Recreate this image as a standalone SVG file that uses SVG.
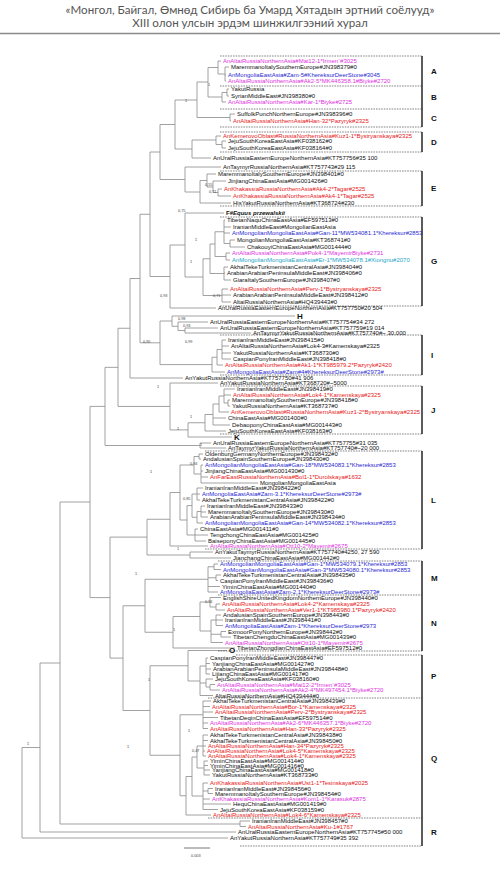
<svg xmlns="http://www.w3.org/2000/svg" width="500" height="882" viewBox="0 0 500 882">
<style>
.hd{font-family:Lato,"Open Sans",sans-serif;font-size:11.6px;fill:#555;text-anchor:middle}
.t{font-family:"Liberation Sans",Arial,sans-serif;font-size:6px;fill:#111;dominant-baseline:central}
.m{fill:#e032e0}.r{fill:#e82020}.b{fill:#2a2ad2}.c{fill:#1fa6c8}
.br{stroke:#8a8a8a;stroke-width:0.8;fill:none}
.dash{stroke:#333;stroke-width:0.6;stroke-dasharray:1.6 1;fill:none}
.bar{stroke:#333;stroke-width:1.6;fill:none}
.lab{font-family:"Liberation Sans",Arial,sans-serif;font-size:8px;font-weight:bold;fill:#111;dominant-baseline:central}
.s{font-family:"Liberation Sans",Arial,sans-serif;font-size:3.8px;fill:#444}
</style>
<rect width="500" height="882" fill="#fff"/>
<g id="header">
<text class="hd" x="250" y="14">«Монгол, Байгал, Өмнөд Сибирь ба Умард Хятадын эртний соёлууд»</text>
<text class="hd" x="250" y="27">XIII олон улсын эрдэм шинжилгээний хурал</text>
<path d="M0 33.5H500" stroke="#8a8a8a" stroke-width="1.6"/>
</g>
<g id="connectors" class="br">
<path d="M225 67V81M225 67H229M225 75H226M225 81H226"/>
<path d="M218 61V74M218 61H221M218 74H225"/>
<path d="M227 89V96M227 89H229M227 96H229"/>
<path d="M222 92.5V102M222 92.5H227M222 102H226"/>
<path d="M208 67.5V97M208 67.5H218M208 97H222"/>
<path d="M230 114V121M230 114H235M230 121H231"/>
<path d="M197 82V117.5M197 82H208M197 117.5H230"/>
<path d="M222 141V148M222 141H226M222 148H226"/>
<path d="M216 136V144.5M216 136H221M216 144.5H222"/>
<path d="M192 140V158M192 140H216M192 158H211"/>
<path d="M175 100V149M175 100H197M175 149H192"/>
<path d="M218 189V196M218 189H222M218 196H231"/>
<path d="M213 181V192.5M213 181H226M213 192.5H218"/>
<path d="M207 174V187M207 174H216M207 187H213"/>
<path d="M200 180.5V203M200 180.5H207M200 203H231"/>
<path d="M185 167V192M185 167H221M185 192H200"/>
<path d="M160 124.5V179.5M160 124.5H175M160 179.5H185"/>
<path d="M230 240V247M230 240H235M230 247H245"/>
<path d="M224 220V243.5M224 220H225M224 227H231M224 233H230M224 243.5H230"/>
<path d="M226 253V260M226 253H230M226 260H230"/>
<path d="M224 267V280M224 267H228M224 273H225M224 280H231"/>
<path d="M222 289V302M222 289H228M222 295H231M222 302H231"/>
<path d="M215 231.75V256.5M215 231.75H224M215 256.5H226"/>
<path d="M210 244V273.5M210 244H215M210 273.5H224"/>
<path d="M203 258.75V295.5M203 258.75H210M203 295.5H222"/>
<path d="M185 213V277M185 213H224M185 277H203"/>
<path d="M170 245V308M170 245H185M170 308H216"/>
<path d="M150 152V276.5M150 152H160M150 276.5H170"/>
<path d="M185 328V333M185 328H218M185 333H251"/>
<path d="M178 322V330.5M178 322H208M178 330.5H185"/>
<path d="M172 316V326.25M172 316H295M172 326.25H178"/>
<path d="M222 340V359M222 340H226M222 346H229M222 353H231M222 359H231"/>
<path d="M217 349.5V365M217 349.5H222M217 365H223"/>
<path d="M212 357.25V372M212 357.25H217M212 372H225"/>
<path d="M160 321V364.6M160 321H172M160 364.6H212"/>
<path d="M140 214.25V342.8M140 214.25H150M140 342.8H160"/>
<path d="M130 278.5V378M130 278.5H140M130 378H183"/>
<path d="M228 400V406M228 400H230M228 406H230"/>
<path d="M224 389V403M224 389H235M224 395H231M224 403H228"/>
<path d="M219 396V412M219 396H224M219 412H229"/>
<path d="M213 404V425M213 404H219M213 418H226M213 425H230"/>
<path d="M205 414.5V431M205 414.5H213M205 431H226"/>
<path d="M188 422.75V437M188 422.75H205M188 437H232"/>
<path d="M170 383V429.9M170 383H218M170 429.9H188"/>
<path d="M118 328.25V406.45M118 328.25H130M118 406.45H170"/>
<path d="M200 443V448M200 443H211M200 448H226"/>
<path d="M105 367.35V445.5M105 367.35H118M105 445.5H200"/>
<path d="M199 454V459M199 454H203M199 459H201"/>
<path d="M201 465V483M201 465H203M201 471H203M201 477H208M201 483H258"/>
<path d="M194 456.5V474M194 456.5H199M194 474H201"/>
<path d="M197 488V500M197 488H203M197 494H200M197 500H200"/>
<path d="M201 506V517M201 506H205M201 512H206M201 517H208"/>
<path d="M197 511.5V523M197 511.5H201M197 523H203"/>
<path d="M192 494V517.25M192 494H197M192 517.25H197"/>
<path d="M195 529V541M195 529H198M195 535H208M195 541H206"/>
<path d="M187 505.6V535M187 505.6H192M187 535H195"/>
<path d="M180 465V520M180 465H194M180 520H187"/>
<path d="M170 492.5V546M170 492.5H180M170 546H208"/>
<path d="M190 552V558M190 552H213M190 558H231"/>
<path d="M147 519.25V555M147 519.25H170M147 555H190"/>
<path d="M214 564V569.5M214 564H218M214 569.5H221"/>
<path d="M216 575V580.5M216 575H221M216 580.5H218"/>
<path d="M208 566.75V592M208 566.75H214M208 577.75H216M208 586.5H220M208 592H218"/>
<path d="M216 604V610M216 604H220M216 610H225"/>
<path d="M210 597.5V607M210 597.5H221M210 607H216"/>
<path d="M216 615V625.5M216 615H221M216 620H223M216 625.5H223"/>
<path d="M221 631.5V637M221 631.5H226M221 637H231"/>
<path d="M211 620V642.5M211 620H216M211 634.25H221M211 642.5H223"/>
<path d="M200 602V631M200 602H210M200 631H211"/>
<path d="M173 616.5V648M173 616.5H200M173 648H235"/>
<path d="M145 579.25V632.25M145 579.25H208M145 632.25H173"/>
<path d="M206 658V674M206 658H208M206 663.5H210M206 669H211M206 674H210"/>
<path d="M210 684.5V690M210 684.5H215M210 690H220"/>
<path d="M206 679V687M206 679H213M206 687H210"/>
<path d="M200 666V695.5M200 666H206M200 683H206M200 695.5H213"/>
<path d="M188 650.5V681M188 650.5H227M188 681H200"/>
<path d="M203 701V728.5M203 701H211M203 706.5H210M203 712H213M203 717.5H218M203 723H208M203 728.5H208"/>
<path d="M203 735V756M203 735H208M203 740.5H208M203 746H206M203 751H205M203 756H206"/>
<path d="M204 761V775M204 761H208M204 765.5H208M204 770H210M204 775H210"/>
<path d="M197 746V768M197 746H203M197 768H204"/>
<path d="M208 788.5V793.5M208 788.5H213M208 793.5H213"/>
<path d="M203 783V809.5M203 783H208M203 791H208M203 799H210M203 804H231M203 809.5H218"/>
<path d="M192 757V796M192 757H197M192 796H203"/>
<path d="M186 776.5V815M186 776.5H192M186 815H211"/>
<path d="M180 714.75V795.75M180 714.75H203M180 795.75H186"/>
<path d="M150 665.75V755.25M150 665.75H188M150 755.25H180"/>
<path d="M123 605.75V710.5M123 605.75H145M123 710.5H150"/>
<path d="M110 537.1V658.1M110 537.1H147M110 658.1H123"/>
<path d="M90 406.4V597.6M90 406.4H105M90 597.6H110"/>
<path d="M240 821V826.5M240 821H250M240 826.5H246"/>
<path d="M60 502V824M60 502H90M60 824H240"/>
<path d="M40 663V832M40 663H60M40 832H236"/>
<path d="M22 747.5V838M22 747.5H40M22 838H228"/>
</g>
<g id="boxes">
<path class="dash" d="M220 56H422M220 86H422M220 109H422M220 127H422M220 132H422M220 152H422M220 171H422M220 206H422M220 217H422M220 306H422M220 335H422M220 375H422M220 386H422M220 434H422M205 451H422M205 549H422M218 561H422M218 595H422M218 651H422M236 655H422M208 698H422M208 818H422M240 846H422"/>
<path class="bar" d="M422 56V86M422 86V109M422 109V127M422 132V152M422 171V206M422 217V306M422 335V375M422 386V434M422 451V549M422 561V595M422 595V651M422 655V698M422 698V818M422 818V846"/>
<text class="lab" x="431" y="71">A</text><text class="lab" x="431" y="97.5">B</text><text class="lab" x="431" y="118">C</text><text class="lab" x="431" y="142">D</text><text class="lab" x="431" y="188.5">E</text><text class="lab" x="431" y="261.5">G</text><text class="lab" x="431" y="355">I</text><text class="lab" x="431" y="410">J</text><text class="lab" x="431" y="500">L</text><text class="lab" x="431" y="578">M</text><text class="lab" x="431" y="623">N</text><text class="lab" x="431" y="676.5">P</text><text class="lab" x="431" y="758">Q</text><text class="lab" x="431" y="832">R</text>
</g>
<g id="cladeA">
<text class="t m" x="223" y="61">AnAltaiRussiaNorthernAsia#Mai12-1*Irmen`#3025</text>
<text class="t" x="231" y="67">MaremmanoItalySouthernEurope#JN398379#0</text>
<text class="t b" x="228" y="75">AnMongoliaEastAsia#Zam-5#KhereksurDeerStone#3045</text>
<text class="t m" x="228" y="81">AnAltaiRussiaNorthernAsia#Ak2-5*MK446358.1#Biyke#2720</text>
</g>
<g id="cladeB">
<text class="t" x="231" y="89">YakutRussia</text>
<text class="t" x="231" y="96">SyrianMiddleEast#JN398380#0</text>
<text class="t m" x="228" y="102">AnAltaiRussiaNorthernAsia#Kar-1*Biyke#2725</text>
</g>
<g id="cladeC">
<text class="t" x="237" y="114">SuffolkPunchNorthernEurope#JN398396#0</text>
<text class="t r" x="233" y="121">AnAltaiRussiaNorthernAsia#Han-32*Pazyryk#2325</text>
</g>
<g id="cladeD">
<text class="t r" x="223" y="136">AnKemerovoOblast#RussiaNorthernAsia#Kuz1-1*Bystryanskaya#2325</text>
<text class="t" x="228" y="141">JejuSouthKoreaEastAsia#KF038162#0</text>
<text class="t" x="228" y="148">JejuSouthKoreaEastAsia#KF038164#0</text>
<text class="t" x="213" y="158">AnUralRussiaEasternEuropeNorthernAsia#KT757756#35 100</text>
<text class="t" x="223" y="167">AnTaymyrRussiaNorthernAsia#KT757743#29 115</text>
</g>
<g id="cladeE">
<text class="t" x="218" y="174">MaremmanoItalySouthernEurope#JN398401#0</text>
<text class="t" x="228" y="181">JinjiangChinaEastAsia#MG001426#0</text>
<text class="t r" x="224" y="189">AnKhakassiaRussiaNorthernAsia#Ak4-2*Tagar#2525</text>
<text class="t r" x="233" y="196">AnKhakassiaRussiaNorthernAsia#Ak4-1*Tagar#2525</text>
<text class="t" x="233" y="203">HisYakutRussiaNorthernAsia#KT368724#230</text>
</g>
<g id="cladeF">
<text class="t" x="226" y="213" font-weight="bold" font-size="7.5">F#<tspan font-style="italic">Equus przewalskii</tspan></text>
</g>
<g id="cladeG">
<text class="t" x="227" y="220">TibetanNaquChinaEastAsia#EF597513#0</text>
<text class="t" x="233" y="227">IranianMiddleEast#MongolianEastAsia</text>
<text class="t b" x="232" y="233">AnMongolianMongoliaEastAsia#Gan-11*MW534081.1*Khereksur#2853</text>
<text class="t" x="237" y="240">MongolianMongoliaEastAsia#KT368741#0</text>
<text class="t" x="247" y="247">ChakouyiChinaEastAsia#MG001444#0</text>
<text class="t m" x="232" y="253">AnAltaiRussiaNorthernAsia#Pok4-1*MayemirBiyke#2731</text>
<text class="t c" x="232" y="260">AnMongolianMongoliaEastAsia#Er-1*MW534078.1#Xiongnu#2070</text>
<text class="t" x="230" y="267">AkhalTekeTurkmenistanCentralAsia#JN398404#0</text>
<text class="t" x="227" y="273">ArabianArabianPeninsulaMiddleEast#JN398406#0</text>
<text class="t" x="233" y="280">GiaraItalySouthernEurope#JN398407#0</text>
<text class="t r" x="230" y="289">AnAltaiRussiaNorthernAsia#Perv-1*Bystryanskaya#2325</text>
<text class="t" x="233" y="295">ArabianArabianPeninsulaMiddleEast#JN398412#0</text>
<text class="t" x="233" y="302">AltaiRussiaNorthernAsia#HQ439443#0</text>
<text class="t" x="218" y="308">AnUralRussiaEasternEuropeNorthernAsia#KT757750#20 504</text>
</g>
<g id="cladeH">
<text class="lab" x="297" y="316">H</text>
<text class="t" x="210" y="322">AnUralRussiaEasternEuropeNorthernAsia#KT757754#34 272</text>
<text class="t" x="220" y="328">AnUralRussiaEasternEuropeNorthernAsia#KT757759#19 014</text>
<text class="t" x="253" y="333">AnTaymyrYakutRussiaNorthernAsia#KT757740#~ 30.000</text>
</g>
<g id="cladeI">
<text class="t" x="228" y="340">IranianIranMiddleEast#JN398415#0</text>
<text class="t" x="231" y="346">AnAltaiRussiaNorthernAsia#Lok4-3#Kamenskaya#2325</text>
<text class="t" x="233" y="353">YakutRussiaNorthernAsia#KT368730#0</text>
<text class="t" x="233" y="359">CaspianPonyIranMiddleEast#JN398418#0</text>
<text class="t r" x="225" y="365">AnAltaiRussiaNorthernAsia#Ak1-1*KT985979.2*Pazyryk#2420</text>
<text class="t b" x="227" y="372">AnMongoliaEastAsia#Zam#4#KhereksurDeerStone#2973#</text>
<text class="t" x="185" y="378">AnYakutRussiaNorthernAsia#KT757750#41 906</text>
<text class="t" x="220" y="383">AnYakutRussiaNorthernAsia#KT368720#~5000</text>
</g>
<g id="cladeJ">
<text class="t" x="237" y="389">IranianIranMiddleEast#JN398419#0</text>
<text class="t r" x="233" y="395">AnAltaiRussiaNorthernAsia#Lok4-1*Kamenskaya#2325</text>
<text class="t" x="232" y="400">MaremmanoItalySouthernEurope#JN398418#0</text>
<text class="t" x="232" y="406">YakutRussiaNorthernAsia#KT368737#0</text>
<text class="t r" x="231" y="412">AnKemerovoOblast#RussiaNorthernAsia#Kuz1-2*Bystryanskaya#2325</text>
<text class="t" x="228" y="418">ChinaEastAsia#MG001400#0</text>
<text class="t" x="232" y="425">DebaoponyChinaEastAsia#MG001443#0</text>
<text class="t" x="228" y="431">JejuSouthKoreaEastAsia#KF038163#0</text>
</g>
<g id="cladeK">
<text class="lab" x="234" y="437">K</text>
<text class="t" x="213" y="443">AnUralRussiaEasternEuropeNorthernAsia#KT757755#31 035</text>
<text class="t" x="228" y="448">AnTaymyrYakutRussiaNorthernAsia#KT757740#~20 000</text>
</g>
<g id="cladeL">
<text class="t" x="205" y="454">OldenburgGermanyNorthernEurope#JN398432#0</text>
<text class="t" x="203" y="459">AndalusianSpainSouthernEurope#JN398430#0</text>
<text class="t b" x="205" y="465">AnMongolianMongoliaEastAsia#Gan-18*MW534083.1*Khereksur#2853</text>
<text class="t" x="205" y="471">JinjiangChinaEastAsia#MG001430#0</text>
<text class="t r" x="210" y="477">AnFarEastRussiaNorthernAsia#Bol1-1*Durolskaya#1632</text>
<text class="t" x="260" y="483">MongolianMongoliaEastAsia</text>
<text class="t" x="205" y="488">IranianIranMiddleEast#JN398422#0</text>
<text class="t b" x="202" y="494">AnMongoliaEastAsia#Zam-3.1*KhereksurDeerStone#2973#</text>
<text class="t" x="202" y="500">AkhalTekeTurkmenistanCentralAsia#JN398422#0</text>
<text class="t" x="207" y="506">IranianIranMiddleEast#JN398433#0</text>
<text class="t" x="208" y="512">MaremmanoItalySouthernEurope#JN398430#0</text>
<text class="t" x="210" y="517">ArabianArabianPeninsulaMiddleEast#JN398434#0</text>
<text class="t b" x="205" y="523">AnMongolianMongoliaEastAsia#Gan-14*MW534082.1*Khereksur#2853</text>
<text class="t" x="200" y="529">ChinaEastAsia#MG001411#0</text>
<text class="t" x="210" y="535">TengchongChinaEastAsia#MG001425#0</text>
<text class="t" x="208" y="541">BaiseponyChinaEastAsia#MG001445#0</text>
<text class="t m" x="210" y="546">AnAltaiRussiaNorthernAsia#Ott10-2*Mayemir#2675</text>
<text class="t" x="215" y="552">AnYakutTaymyrRussiaNorthernAsia#KT757740#4250, 27 590</text>
<text class="t" x="233" y="558">JianchangChinaEastAsia#MG001442#0</text>
</g>
<g id="cladeM">
<text class="t b" x="220" y="564">AnMongolianMongoliaEastAsia#Gan-1*MW534079.1*Khereksur#2853</text>
<text class="t b" x="223" y="569.5">AnMongolianMongoliaEastAsia#Gan-3*MW534080.1*Khereksur#2853</text>
<text class="t" x="223" y="575">AkhalTekeTurkmenistanCentralAsia#JN398435#0</text>
<text class="t" x="220" y="580.5">CaspianPonyIranMiddleEast#JN398436#0</text>
<text class="t" x="222" y="586.5">YiminChinaEastAsia#MG001440#0</text>
<text class="t b" x="220" y="592">AnMongoliaEastAsia#Zam-2.1*KhereksurDeerStone#2973#</text>
</g>
<g id="cladeN">
<text class="t" x="223" y="597.5">EnglishShireUnitedKingdomNorthernEurope#JN398440#0</text>
<text class="t r" x="222" y="604">AnAltaiRussiaNorthernAsia#Lok4-2*Kamenskaya#2325</text>
<text class="t r" x="227" y="610">AnAltaiRussiaNorthernAsia#Ver1-1*KT985980.1*Pazyryk#2420</text>
<text class="t" x="223" y="615">AndalusianSpainSouthernEurope#JN398443#0</text>
<text class="t" x="225" y="620">IranianIranMiddleEast#JN398441#0</text>
<text class="t b" x="225" y="625.5">AnMongoliaEastAsia#Zam-1*KhereksurDeerStone#2973</text>
<text class="t" x="228" y="631.5">ExmoorPonyNorthernEurope#JN398442#0</text>
<text class="t" x="233" y="637">TibetanChengduChinaEastAsia#MG001439#0</text>
<text class="t m" x="225" y="642.5">AnAltaiRussiaNorthernAsia#Ott10-1*Mayemir#2675</text>
<text class="t" x="237" y="648">TibetanZhongdianChinaEastAsia#EF597512#0</text>
</g>
<g id="cladeO"><text class="lab" x="229" y="650.5" font-size="6.5">O</text></g>
<g id="cladeP">
<text class="t" x="210" y="658">CaspianPonyIranMiddleEast#JN398447#0</text>
<text class="t" x="212" y="663.5">YanjiangChinaEastAsia#MG001427#0</text>
<text class="t" x="213" y="669">ArabianArabianPeninsulaMiddleEast#JN398448#0</text>
<text class="t" x="212" y="674">LijiangChinaEastAsia#MG001417#0</text>
<text class="t" x="215" y="679">JejuSouthKoreaEastAsia#KF038160#0</text>
<text class="t m" x="217" y="684.5">AnAltaiRussiaNorthernAsia#Mai12-2*Irmen`#3025</text>
<text class="t m" x="222" y="690">AnAltaiRussiaNorthernAsia#Ak2-4*MK497454.1*Biyke#2720</text>
<text class="t" x="215" y="695.5">AltaiRussiaNorthernAsia#HQ439444#0</text>
</g>
<g id="cladeQ">
<text class="t" x="213" y="701">AkhalTekeTurkmenistanCentralAsia#JN398439#0</text>
<text class="t r" x="212" y="706.5">AnAltaiRussiaNorthernAsia#Bor-1*Kamenskaya#2325</text>
<text class="t r" x="215" y="712">AnAltaiRussiaNorthernAsia#Perv-2*Bystryanskaya#2325</text>
<text class="t" x="220" y="717.5">TibetanDeqinChinaEastAsia#EF597514#0</text>
<text class="t m" x="210" y="723">AnAltaiRussiaNorthernAsia#Ak2-6*MK446357.1*Biyke#2720</text>
<text class="t r" x="210" y="728.5">AnAltaiRussiaNorthernAsia#Han-33*Pazyryk#2325</text>
<text class="t" x="210" y="735">AkhalTekeTurkmenistanCentralAsia#JN398438#0</text>
<text class="t" x="210" y="740.5">AkhalTekeTurkmenistanCentralAsia#JN398450#0</text>
<text class="t r" x="208" y="746">AnAltaiRussiaNorthernAsia#Han-34*Pazyryk#2325</text>
<text class="t r" x="207" y="751">AnAltaiRussiaNorthernAsia#Lok4-5*Kamenskaya#2325</text>
<text class="t r" x="208" y="756">AnAltaiRussiaNorthernAsia#Lok4-1*Kamenskaya#2325</text>
<text class="t" x="210" y="761">YiminChinaEastAsia#MG001414#0</text>
<text class="t" x="210" y="765.5">YiminChinaEastAsia#MG001416#0</text>
<text class="t" x="212" y="770">YanjiangChinaEastAsia#MG001418#0</text>
<text class="t" x="212" y="775">YakutRussiaNorthernAsia#KT368733#0</text>
<text class="t r" x="210" y="783">AnKhakassiaRussiaNorthernAsia#Ust1-1*Tesinskaya#2025</text>
<text class="t" x="215" y="788.5">IranianIranMiddleEast#JN398456#0</text>
<text class="t" x="215" y="793.5">MaremmanoItalySouthernEurope#JN398454#0</text>
<text class="t m" x="212" y="799">AnKhakassiaRussiaNorthernAsia#Kom1-1*Karasuk#2875</text>
<text class="t" x="233" y="804">HequChinaEastAsia#MG001419#0</text>
<text class="t" x="220" y="809.5">JejuSouthKoreaEastAsia#KF038159#0</text>
<text class="t r" x="213" y="815">AnAltaiRussiaNorthernAsia#Lok4-6*Kamenskaya#2325</text>
</g>
<g id="cladeR">
<text class="t" x="252" y="821">IranianIranMiddleEast#JN398457#0</text>
<text class="t r" x="248" y="826.5">AnAltaiRussiaNorthernAsia#Ku-1#1767</text>
<text class="t" x="238" y="832">AnUralRussiaEasternEuropeNorthernAsia#KT757745#50 000</text>
<text class="t" x="230" y="838">AnYakutRussiaNorthernAsia#KT757749#35 392</text>
</g>
<g id="support">
<text class="s" x="208" y="86">1</text><text class="s" x="185" y="102">1</text><text class="s" x="205" y="186">0,55</text><text class="s" x="209" y="193">0,71</text><text class="s" x="178" y="212">0,75</text><text class="s" x="195" y="241">1</text><text class="s" x="190" y="263">1</text><text class="s" x="160" y="297">0,93</text><text class="s" x="213" y="297">0,71</text><text class="s" x="178" y="320">0,98</text><text class="s" x="183" y="327">0,93</text><text class="s" x="143" y="343">0,95</text><text class="s" x="185" y="343">0,99</text><text class="s" x="157" y="388">1</text><text class="s" x="190" y="418">1</text><text class="s" x="177" y="430">1</text><text class="s" x="200" y="446">1</text><text class="s" x="190" y="465">0,94</text><text class="s" x="150" y="473">1</text><text class="s" x="183" y="500">0,85</text><text class="s" x="177" y="550">1</text><text class="s" x="135" y="575">1</text><text class="s" x="205" y="603">0,56</text><text class="s" x="173" y="631">1</text><text class="s" x="148" y="681">1</text><text class="s" x="188" y="732">1</text><text class="s" x="192" y="752">0,47</text><text class="s" x="127" y="748">1</text><text class="s" x="27" y="745">1</text>
</g>
<g id="scale">
<path d="M184 848H210" stroke="#555" stroke-width="0.8"/>
<text class="s" x="191" y="857">0.003</text>
</g>
</svg>
